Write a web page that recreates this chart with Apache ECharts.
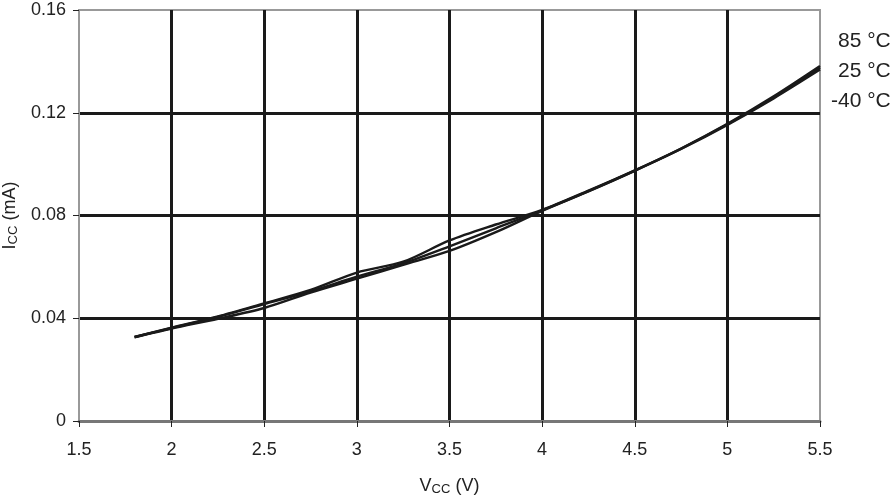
<!DOCTYPE html>
<html><head><meta charset="utf-8">
<script src="https://cdn.jsdelivr.net/npm/echarts@6/dist/echarts.min.js"></script>
<style>html,body{margin:0;padding:0;background:#fff}#c{width:895px;height:496px}</style>
</head><body><div id="c"></div>
<script>
const vcc = [1.8, 2.0, 2.25, 2.5, 2.75, 3.0, 3.25, 3.5, 3.75, 4.0, 4.25, 4.5, 4.75, 5.0, 5.25, 5.5];
const icc85 = [0.0327, 0.0363, 0.0407, 0.0458, 0.0510, 0.0578, 0.0620, 0.0703, 0.0765, 0.0822, 0.0897, 0.0976, 0.1061, 0.1157, 0.1264, 0.1382];
const icc25 = [0.0327, 0.0362, 0.0405, 0.0455, 0.0505, 0.0562, 0.0614, 0.0680, 0.0750, 0.0820, 0.0895, 0.0975, 0.1060, 0.1155, 0.1259, 0.1375];
const iccM40 = [0.0326, 0.0360, 0.0398, 0.0440, 0.0500, 0.0554, 0.0608, 0.0662, 0.0735, 0.0818, 0.0894, 0.0974, 0.1059, 0.1153, 0.1256, 0.1368];
const seriesNames = ['85 °C', '25 °C', '-40 °C'];
const xTicks = {min: 1.5, max: 5.5, interval: 0.5};
const yTicks = {min: 0, max: 0.16, interval: 0.04};

const chart = echarts.init(document.getElementById('c'), null, {renderer: 'canvas'});
const font = '"Liberation Sans", Arial, sans-serif';
function mk(name, arr) {
  return {
    name, type: 'line', data: vcc.map((x, i) => [x, arr[i]]),
    smooth: 0.3, showSymbol: false, symbol: 'none',
    lineStyle: {color: '#1a1a1a', width: 2.4}, z: 5
  };
}
const rich = {a: {fontSize: 18, fontFamily: font, color: '#222'}, b: {fontSize: 13, fontFamily: font, color: '#222', padding: [7, 0, 0, 0]}};
chart.setOption({
  animation: false,
  grid: {left: 79, right: 75, top: 10, bottom: 75, outerBoundsMode: 'none', containLabel: false, show: true, borderColor: '#999', borderWidth: 2},
  xAxis: {
    type: 'value', min: xTicks.min, max: xTicks.max, interval: xTicks.interval,
    name: '{a|V}{b|CC}{a| (V)}', nameLocation: 'middle', nameGap: 55,
    nameTextStyle: {rich},
    axisLine: {show: true, lineStyle: {color: '#777', width: 3}},
    axisTick: {show: true, inside: false, length: 6, lineStyle: {color: '#222', width: 1}},
    axisLabel: {fontSize: 18, fontFamily: font, color: '#222', margin: 20, formatter: v => String(v)},
    splitLine: {show: true, showMinLine: false, showMaxLine: false, lineStyle: {color: '#1a1a1a', width: 3}}
  },
  yAxis: {
    type: 'value', min: yTicks.min, max: yTicks.max, interval: yTicks.interval,
    name: '{a|I}{b|CC}{a| (mA)}', nameLocation: 'middle', nameGap: 58,
    nameTextStyle: {rich},
    axisLine: {show: true, lineStyle: {color: '#999', width: 2}},
    axisTick: {show: true, inside: false, length: 6, lineStyle: {color: '#222', width: 1}},
    axisLabel: {fontSize: 18, fontFamily: font, color: '#222', margin: 13, formatter: v => v === 0 ? '0' : v.toFixed(2)},
    splitLine: {show: true, showMinLine: false, showMaxLine: false, lineStyle: {color: '#1a1a1a', width: 3}}
  },
  series: [mk(seriesNames[0], icc85), mk(seriesNames[1], icc25), mk(seriesNames[2], iccM40)],
  graphic: seriesNames.map((n, i) => ({
    type: 'text', left: n.startsWith('-') ? 831 : 838, top: 31 + i * 30,
    style: {text: n, fontSize: 21, fontFamily: font, fill: '#222'}
  }))
});
</script></body></html>
